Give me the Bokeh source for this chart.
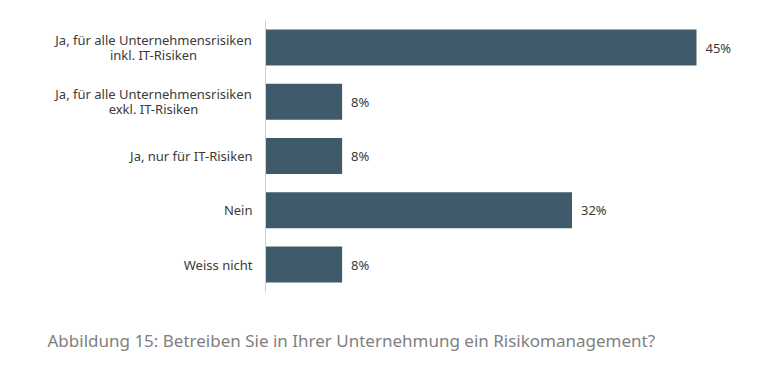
from bokeh.plotting import figure
from bokeh.models import Range1d, ColumnDataSource
from bokeh.core.properties import value
from bokeh.embed import file_html
from bokeh.resources import INLINE

categories = [
    "Ja, für alle Unternehmensrisiken\ninkl. IT-Risiken",
    "Ja, für alle Unternehmensrisiken\nexkl. IT-Risiken",
    "Ja, nur für IT-Risiken",
    "Nein",
    "Weiss nicht",
]
values = [45, 8, 8, 32, 8]
value_labels = ["45%", "8%", "8%", "32%", "8%"]
caption = "Abbildung 15: Betreiben Sie in Ihrer Unternehmung ein Risikomanagement?"

W, H = 758, 370
x0_px = 265
px_per_unit = 431 / 45.0
x_start = -x0_px / px_per_unit
x_end = (W - x0_px) / px_per_unit
row = 54.25
c0 = 47
y_top = -c0 / row
y_bot = (H - c0) / row

idx = list(range(len(categories)))
src = ColumnDataSource(dict(y=idx, v=values, lab=value_labels, zero=[0] * len(idx)))

# split category labels: single-line -> right aligned; two-line -> centred block
single = dict(x=[], y=[], t=[])
multi = dict(x=[], y=[], t=[], off=[])
for i, c in enumerate(categories):
    parts = c.split("\n")
    if len(parts) == 1:
        single["x"].append(-13 / px_per_unit)
        single["y"].append(i)
        single["t"].append(c)
    else:
        n = len(parts)
        for k, part in enumerate(parts):
            multi["x"].append(-112 / px_per_unit)
            multi["y"].append(i)
            multi["t"].append(part)
            multi["off"].append((k - (n - 1) / 2) * 15)

p = figure(width=W, height=H, output_backend="svg", toolbar_location=None,
           x_range=Range1d(x_start, x_end), y_range=Range1d(y_bot, y_top),
           min_border=0, min_border_left=0, min_border_right=0,
           min_border_top=0, min_border_bottom=0)
p.xaxis.visible = False
p.yaxis.visible = False
p.grid.visible = False
p.outline_line_color = None
p.background_fill_color = "white"
p.border_fill_color = "white"

p.hbar(y="y", left="zero", right="v", height=0.665, source=src,
       fill_color="#3f5b6b", line_color=None)

# axis line
p.segment(x0=[0], y0=[-0.5], x1=[0], y1=[4.52], line_color="#d0d0d0", line_width=1)

p.text(x="x", y="y", text="t", source=ColumnDataSource(single), text_align="right",
       text_baseline="middle", text_font=value("Noto Sans"), text_font_size="13px",
       text_color="#3a3a3a")
p.text(x="x", y="y", text="t", y_offset="off", source=ColumnDataSource(multi),
       text_align="center", text_baseline="middle", text_font=value("Noto Sans"),
       text_font_size="13px", text_color="#3a3a3a")

p.text(x="v", y="y", text="lab", source=src, x_offset=9, text_align="left",
       text_baseline="middle", text_font=value("Noto Sans"), text_font_size="13px",
       text_color="#3a3a3a")

p.text(x=[x_start + 47 / px_per_unit], y=[(340 - c0) / row], text=[caption], text_align="left",
       text_baseline="middle", text_font=value("Noto Sans"), text_font_size="17px",
       text_color="#7f7f7f")

open("out.html", "w").write(file_html(p, INLINE))
